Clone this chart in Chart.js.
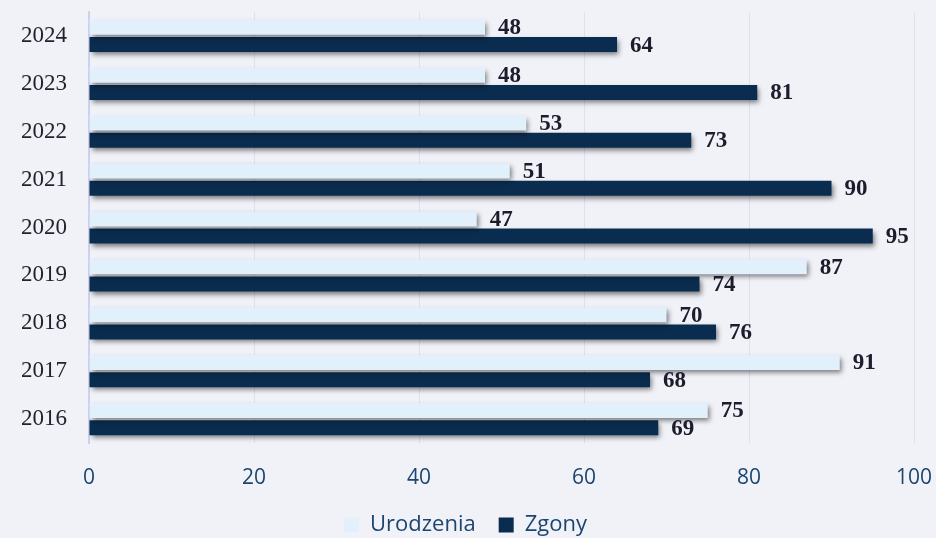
<!DOCTYPE html>
<html><head><meta charset="utf-8">
<script src="https://cdn.jsdelivr.net/npm/chart.js@4.4.1/dist/chart.umd.min.js"></script>
<style>
html,body{margin:0;padding:0;background:#f1f2f8;}
#wrap{width:936px;height:538px;}
</style></head>
<body><div id="wrap"><canvas id="c" width="936" height="538"></canvas></div>
<script>
const years = ["2024","2023","2022","2021","2020","2019","2018","2017","2016"];
const urodzenia = [48,48,53,51,47,87,70,91,75];
const zgony = [64,81,73,90,95,74,76,68,69];
const xTicks = [0,20,40,60,80,100];

const shadowPlugin = {
  id:'shadow',
  beforeDatasetsDraw(chart){
    const ctx=chart.ctx; ctx.save();
    ctx.shadowColor='rgba(0,0,0,0.5)'; ctx.shadowBlur=5; ctx.shadowOffsetX=2; ctx.shadowOffsetY=3;
  },
  afterDatasetsDraw(chart){
    const ctx=chart.ctx; ctx.restore();
    ctx.save();
    ctx.font='bold 23px "Liberation Serif", "Times New Roman", serif';
    ctx.fillStyle='#1c1c2c'; ctx.textBaseline='middle'; ctx.textAlign='left';
    chart.data.datasets.forEach((ds,di)=>{
      const meta=chart.getDatasetMeta(di);
      meta.data.forEach((el,i)=>{
        ctx.fillText(String(ds.data[i]), el.x+13, el.y+1);
      });
    });
    ctx.restore();
  }
};

new Chart(document.getElementById('c'),{
  type:'bar',
  data:{labels:years,datasets:[
    {label:'Urodzenia',data:urodzenia,backgroundColor:'#e1f0fb',categoryPercentage:0.72,barPercentage:0.87},
    {label:'Zgony',data:zgony,backgroundColor:'#0a2c4e',categoryPercentage:0.72,barPercentage:0.87}
  ]},
  options:{
    indexAxis:'y',responsive:false,animation:false,
    layout:{padding:{left:17,right:22,top:12,bottom:-8}},
    plugins:{
      legend:{position:'bottom',labels:{boxWidth:15,boxHeight:15,padding:23,color:'#1b4670',font:{family:'"Open Sans", "Noto Sans", sans-serif',size:22}}},
      tooltip:{enabled:false}
    },
    scales:{
      x:{min:0,max:100,afterBuildTicks(a){a.ticks=xTicks.map(v=>({value:v}));},
        afterFit(s){s.height=48;s.paddingLeft=0;s.paddingRight=0;},
        grid:{color:'rgba(205,205,220,0.5)',drawTicks:false},
        border:{display:false},
        ticks:{padding:22,color:'#1b4670',font:{family:'"Open Sans", "Noto Sans", sans-serif',size:21}}},
      y:{afterFit(s){s.width=72;s.paddingTop=0;s.paddingBottom=0;},
        grid:{display:false,drawTicks:false},border:{color:'#c9d3ec',width:2},
        ticks:{padding:22,color:'#23232f',font:{family:'"Liberation Serif", "Times New Roman", serif',size:23}}}
    }
  },
  plugins:[shadowPlugin]
});
</script></body></html>
